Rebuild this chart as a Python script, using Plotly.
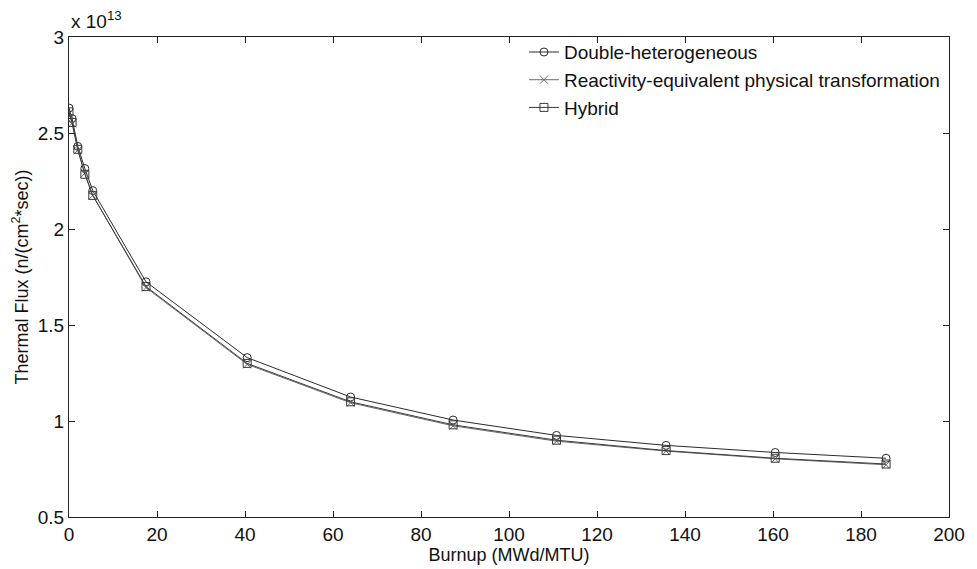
import plotly.graph_objects as go

# Burnup steps (MWd/MTU)
burnup = [0, 0.7, 2, 3.6, 5.4, 17.5, 40.5, 64, 87.3, 110.8, 135.7, 160.5, 185.7]

# Thermal flux in units of 1e13 n/(cm^2*sec)
flux_double_het = [2.63, 2.575, 2.43, 2.315, 2.20, 1.725, 1.33, 1.125, 1.005, 0.925, 0.873, 0.836, 0.806]
flux_re_pt = [2.60, 2.55, 2.41, 2.29, 2.175, 1.695, 1.295, 1.095, 0.975, 0.895, 0.843, 0.803, 0.772]
flux_hybrid = [2.61, 2.555, 2.415, 2.285, 2.175, 1.70, 1.30, 1.10, 0.98, 0.90, 0.846, 0.806, 0.776]

series_names = [
    "Double-heterogeneous",
    "Reactivity-equivalent physical transformation",
    "Hybrid",
]

font_family = "Liberation Sans, Arial, sans-serif"

fig = go.Figure()

styles = [
    dict(color="#2a2a2a", symbol="circle-open"),
    dict(color="#6a6a6a", symbol="x-thin-open"),
    dict(color="#3a3a3a", symbol="square-open"),
]

for name, ys, st in zip(series_names, [flux_double_het, flux_re_pt, flux_hybrid], styles):
    fig.add_trace(go.Scatter(
        x=burnup, y=ys, name=name, mode="lines+markers",
        line=dict(color=st["color"], width=1),
        marker=dict(symbol=st["symbol"], size=8,
                    line=dict(color=st["color"], width=1), color=st["color"]),
    ))

axis_common = dict(
    showgrid=False, zeroline=False,
    showline=True, linecolor="#222", linewidth=1, mirror="ticks",
    ticks="inside", ticklen=6, tickcolor="#222",
    tickfont=dict(family=font_family, size=19, color="#111"),
)

fig.update_xaxes(
    range=[0, 200], tickvals=list(range(0, 201, 20)),
    title=dict(text="Burnup (MWd/MTU)", standoff=0,
               font=dict(family=font_family, size=18, color="#111")),
    **axis_common,
)
fig.update_yaxes(
    range=[0.5, 3], tickvals=[0.5, 1, 1.5, 2, 2.5, 3],
    ticktext=["0.5", "1", "1.5", "2", "2.5", "3"],
    title=dict(text="Thermal Flux (n/(cm<sup>2</sup>*sec))", standoff=4,
               font=dict(family=font_family, size=18, color="#111")),
    **axis_common,
)

fig.add_annotation(
    x=0, y=1, xref="paper", yref="paper", xanchor="left", yanchor="bottom",
    text="x 10<sup>13</sup>", showarrow=False, xshift=0, yshift=3,
    font=dict(family=font_family, size=19, color="#111"),
)

fig.update_layout(
    width=977, height=569,
    margin=dict(l=69, r=19, t=37, b=50),
    paper_bgcolor="white", plot_bgcolor="white",
    font=dict(family=font_family, color="#111"),
    legend=dict(
        x=0.517, y=1.008, xanchor="left", yanchor="top",
        bgcolor="rgba(255,255,255,0)", borderwidth=0,
        font=dict(family=font_family, size=19, color="#111"),
        itemwidth=30, tracegroupgap=0,
    ),
    showlegend=True,
)

fig.write_html("out.html")
